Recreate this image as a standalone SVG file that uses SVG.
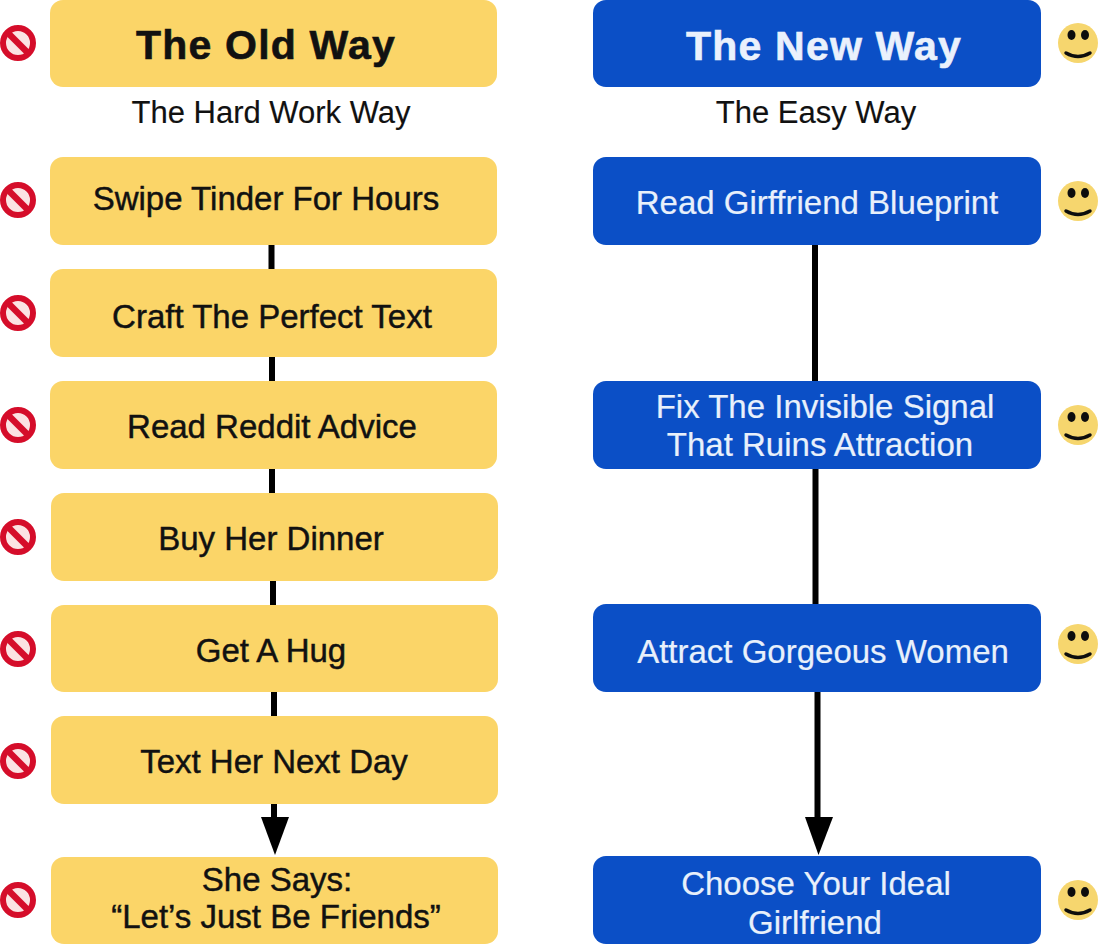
<svg xmlns="http://www.w3.org/2000/svg" width="1104" height="944" viewBox="0 0 1104 944">
<style>
text{font-family:"Liberation Sans",Arial,sans-serif;text-anchor:middle}
.y{fill:#fbd568}
.b{fill:#0b4fc6}
.yt{font-size:33px;fill:#111;stroke:#111;stroke-width:.45px}
.bt{font-size:33px;fill:#e8f0fb;stroke:#e8f0fb;stroke-width:.2px}
.sub{font-size:31px;fill:#111;stroke:#111;stroke-width:.15px}
.hd{font-size:41px;font-weight:bold;letter-spacing:1.2px;stroke-width:.6px}
.c{stroke:#000;stroke-width:6;fill:none}
</style>
<defs>
<filter id="soft" x="-20%" y="-20%" width="140%" height="140%"><feGaussianBlur stdDeviation="0.6"/></filter>
<g id="no"><circle r="15" fill="#fbe3e3" stroke="#d5102a" stroke-width="6"/><path d="M-10.500 -10.500L10.500 10.500" stroke="#d5102a" stroke-width="6.500"/></g>
<g id="sm"><circle r="20" fill="#f6d66e"/><ellipse cx="-6.500" cy="-8" rx="4" ry="5" fill="#111"/><ellipse cx="7" cy="-8" rx="4" ry="5" fill="#111"/><path d="M-12 10Q0 17 12 10" stroke="#111" stroke-width="3.500" fill="none" stroke-linecap="round"/></g>
</defs>
<rect width="1104" height="944" fill="#fff"/>
<g id="connectors">
<path class="c" d="M271.500 245V269M272 357V381M272 469V493M273 581V605M274 692V716"/>
<path class="c" d="M274 804V824"/><path d="M261 817H289L275 855Z"/>
<path class="c" d="M815 245V381M815.500 469V604M817.500 692V822"/><path d="M805 817H833L818.500 855Z"/>
</g>
<g id="old-head"><rect class="y" x="50" y="0" width="447" height="87" rx="13"/><text class="hd" x="266" y="59" fill="#111" stroke="#111">The Old Way</text></g>
<g id="old-sub"><text class="sub" x="271" y="123">The Hard Work Way</text></g>
<g id="old-1"><rect class="y" x="50" y="157" width="447" height="88" rx="13"/><text class="yt" x="266" y="210">Swipe Tinder For Hours</text></g>
<g id="old-2"><rect class="y" x="50" y="269" width="447" height="88" rx="13"/><text class="yt" x="272" y="328">Craft The Perfect Text</text></g>
<g id="old-3"><rect class="y" x="50" y="381" width="447" height="88" rx="13"/><text class="yt" x="272" y="438">Read Reddit Advice</text></g>
<g id="old-4"><rect class="y" x="51" y="493" width="447" height="88" rx="13"/><text class="yt" x="271" y="550">Buy Her Dinner</text></g>
<g id="old-5"><rect class="y" x="51" y="605" width="447" height="87" rx="13"/><text class="yt" x="271" y="662">Get A Hug</text></g>
<g id="old-6"><rect class="y" x="51" y="716" width="447" height="88" rx="13"/><text class="yt" x="274" y="773">Text Her Next Day</text></g>
<g id="old-7"><rect class="y" x="51" y="857" width="447" height="87" rx="13"/><text class="yt" x="277" y="891">She Says:</text><text class="yt" x="276" y="928">“Let’s Just Be Friends”</text></g>
<g id="new-head"><rect class="b" x="593" y="0" width="448" height="87" rx="13"/><text class="hd" x="824" y="60" fill="#eaf1fc" stroke="#eaf1fc">The New Way</text></g>
<g id="new-sub"><text class="sub" x="816" y="123">The Easy Way</text></g>
<g id="new-1"><rect class="b" x="593" y="157" width="448" height="88" rx="13"/><text class="bt" x="817" y="214">Read Girffriend Blueprint</text></g>
<g id="new-2"><rect class="b" x="593" y="381" width="448" height="88" rx="13"/><text class="bt" x="825" y="418">Fix The Invisible Signal</text><text class="bt" x="820" y="456">That Ruins Attraction</text></g>
<g id="new-3"><rect class="b" x="593" y="604" width="448" height="88" rx="13"/><text class="bt" x="823" y="663">Attract Gorgeous Women</text></g>
<g id="new-4"><rect class="b" x="593" y="856" width="448" height="88" rx="13"/><text class="bt" x="816" y="895">Choose Your Ideal</text><text class="bt" x="815" y="934">Girlfriend</text></g>
<g id="icons-no" filter="url(#soft)">
<use href="#no" x="18" y="43"/><use href="#no" x="18" y="200"/><use href="#no" x="18" y="313"/><use href="#no" x="18" y="425"/><use href="#no" x="18" y="537"/><use href="#no" x="18" y="649"/><use href="#no" x="18" y="761"/><use href="#no" x="18" y="900"/>
</g>
<g id="icons-smile" filter="url(#soft)">
<use href="#sm" x="1078" y="43"/><use href="#sm" x="1078" y="201"/><use href="#sm" x="1078" y="425"/><use href="#sm" x="1078" y="644"/><use href="#sm" x="1078" y="900"/>
</g>
</svg>
